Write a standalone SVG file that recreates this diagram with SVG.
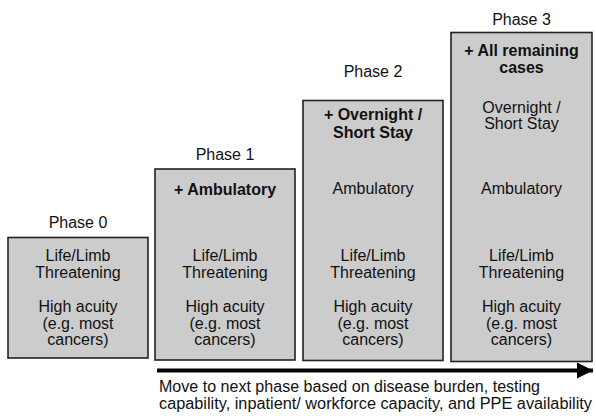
<svg xmlns="http://www.w3.org/2000/svg" width="596" height="416" viewBox="0 0 596 416">
<defs>
<style>
text{font-family:"Liberation Sans",Arial,sans-serif;font-size:16px;fill:#111;text-anchor:middle}
.b{font-weight:bold}
.box{fill:#cccccc;stroke:#222;stroke-width:1.6}
.note{text-anchor:start}
</style>
<marker id="ah" viewBox="0 0 10 10" refX="10" refY="5" markerWidth="4" markerHeight="4" markerUnits="strokeWidth" orient="auto">
<path d="M0,0L10,5L0,10z" fill="#000"/>
</marker>
</defs>
<rect width="596" height="416" fill="#fff"/>
<g id="phase0">
<text x="78" y="227.5">Phase 0</text>
<rect class="box" x="8" y="237.5" width="140" height="120.5"/>
<text x="78" y="260.5">Life/Limb</text>
<text x="78" y="277.5">Threatening</text>
<text x="78" y="312">High acuity</text>
<text x="78" y="328.5">(e.g. most</text>
<text x="78" y="345">cancers)</text>
</g>
<g id="phase1">
<text x="225" y="160">Phase 1</text>
<rect class="box" x="155" y="169" width="140" height="191"/>
<text class="b" x="225" y="194.5">+ Ambulatory</text>
<text x="225" y="260.5">Life/Limb</text>
<text x="225" y="277.5">Threatening</text>
<text x="225" y="312">High acuity</text>
<text x="225" y="328.5">(e.g. most</text>
<text x="225" y="345">cancers)</text>
</g>
<g id="phase2">
<text x="373" y="77">Phase 2</text>
<rect class="box" x="303" y="100.5" width="140" height="260"/>
<text class="b" x="373" y="120">+ Overnight /</text>
<text class="b" x="373" y="138">Short Stay</text>
<text x="373" y="193.5">Ambulatory</text>
<text x="373" y="260.5">Life/Limb</text>
<text x="373" y="277.5">Threatening</text>
<text x="373" y="312">High acuity</text>
<text x="373" y="328.5">(e.g. most</text>
<text x="373" y="345">cancers)</text>
</g>
<g id="phase3">
<text x="521.5" y="24.5">Phase 3</text>
<rect class="box" x="451" y="32.5" width="141" height="329"/>
<text class="b" x="521.5" y="55.5">+ All remaining</text>
<text class="b" x="521.5" y="72.5">cases</text>
<text x="521.5" y="112.5">Overnight /</text>
<text x="521.5" y="129">Short Stay</text>
<text x="521.5" y="193.5">Ambulatory</text>
<text x="521.5" y="260.5">Life/Limb</text>
<text x="521.5" y="277.5">Threatening</text>
<text x="521.5" y="312">High acuity</text>
<text x="521.5" y="328.5">(e.g. most</text>
<text x="521.5" y="345">cancers)</text>
</g>
<g id="connectors">
<line x1="157" y1="370.5" x2="593" y2="370.5" stroke="#000" stroke-width="4" marker-end="url(#ah)"/>
</g>
<g id="note">
<text class="note" x="159" y="392" textLength="381" lengthAdjust="spacingAndGlyphs">Move to next phase based on disease burden, testing</text>
<text class="note" x="159" y="409" textLength="433" lengthAdjust="spacingAndGlyphs">capability, inpatient/ workforce capacity, and PPE availability</text>
</g>
</svg>
